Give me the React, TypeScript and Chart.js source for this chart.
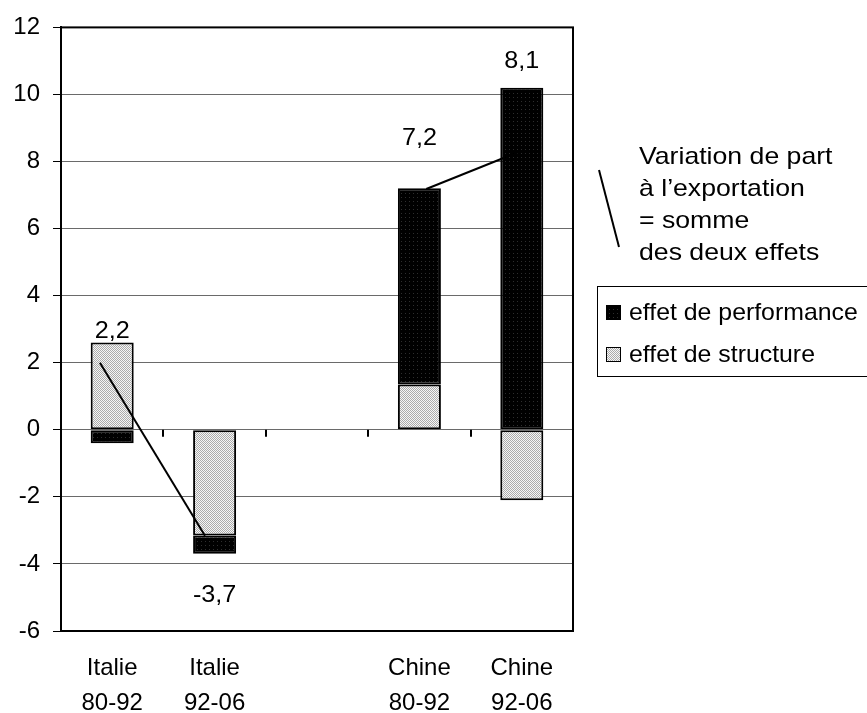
import React, { useEffect, useRef } from 'react';
import { Chart, registerables } from 'chart.js';

Chart.register(...registerables);

// ---- data ----
const categories: (string | string[])[] = [
  ['Italie', '80-92'],
  ['Italie', '92-06'],
  '',
  ['Chine', '80-92'],
  ['Chine', '92-06'],
];
const structureEffect = [2.6, -3.15, null, 1.35, -2.1];
const performanceEffect = [-0.4, -0.55, null, 5.85, 10.2];
// vertical placement (axis units) of the written totals
const totalLabelY = [2.95, -4.95, null, 8.7, 11.0];
const yMin = -6;
const yMax = 12;
const yStep = 2;
const seriesNames = ['effet de structure', 'effet de performance'];
const calloutLines = ['Variation de part', 'à l’exportation', '= somme', 'des deux effets'];
// connector lines between totals: [category index, axis value]
const italyConnector = [[-0.12, 2.0], [0.906, -3.16]];
const chinaConnector = [[3.067, 7.18], [3.98, 8.3]];

const FONT = '"Liberation Sans", Arial, sans-serif';

function makeStructurePattern(ctx: CanvasRenderingContext2D): CanvasPattern | string {
  const c = document.createElement('canvas');
  c.width = 2;
  c.height = 2;
  const p = c.getContext('2d');
  if (!p) return '#d0d0d0';
  p.fillStyle = '#f6f6f6';
  p.fillRect(0, 0, 2, 2);
  p.fillStyle = '#ababab';
  p.fillRect(0, 0, 1, 1);
  p.fillRect(1, 1, 1, 1);
  return ctx.createPattern(c, 'repeat') || '#d0d0d0';
}

function makePerformancePattern(ctx: CanvasRenderingContext2D): CanvasPattern | string {
  const c = document.createElement('canvas');
  c.width = 4;
  c.height = 4;
  const p = c.getContext('2d');
  if (!p) return '#000';
  p.fillStyle = '#000';
  p.fillRect(0, 0, 4, 4);
  p.fillStyle = '#2e2e2e';
  p.fillRect(1, 1, 1, 1);
  return ctx.createPattern(c, 'repeat') || '#000';
}

const fmt = (v: number) => v.toFixed(1).replace('.', ',');

// text drawn slightly widened, like the rest of the figure's lettering
function wideText(c: CanvasRenderingContext2D, text: string, x: number, y: number, sx: number) {
  c.save();
  c.translate(x, y);
  c.scale(sx, 1);
  c.fillText(text, 0, 0);
  c.restore();
}

export default function App() {
  const ref = useRef<HTMLCanvasElement | null>(null);

  useEffect(() => {
    const canvas = ref.current;
    if (!canvas) return;
    const ctx = canvas.getContext('2d');
    if (!ctx) return;

    const structFill = makeStructurePattern(ctx);
    const perfFill = makePerformancePattern(ctx);

    const overlay = {
      id: 'overlay',
      afterDatasetsDraw(chart: any) {
        const c: CanvasRenderingContext2D = chart.ctx;
        const { left, right, top, bottom } = chart.chartArea;
        const xs = chart.scales.x;
        const ys = chart.scales.y;
        const y0 = ys.getPixelForValue(0);

        c.save();
        // tick marks on the zero line, between categories
        c.strokeStyle = '#000';
        c.lineWidth = 2;
        for (let i = 1; i < categories.length; i++) {
          const x = Math.round((xs.getPixelForValue(i - 1) + xs.getPixelForValue(i)) / 2);
          c.beginPath();
          c.moveTo(x, y0);
          c.lineTo(x, y0 + 7);
          c.stroke();
        }

        // connectors
        c.lineWidth = 2;
        [italyConnector, chinaConnector].forEach((seg) => {
          c.beginPath();
          c.moveTo(xs.getPixelForValue(seg[0][0]), ys.getPixelForValue(seg[0][1]));
          c.lineTo(xs.getPixelForValue(seg[1][0]), ys.getPixelForValue(seg[1][1]));
          c.stroke();
        });

        // plot frame
        c.lineWidth = 2;
        c.strokeRect(left, top, right - left, bottom - top);

        // totals
        c.fillStyle = '#000';
        c.font = `24px ${FONT}`;
        c.textAlign = 'center';
        c.textBaseline = 'middle';
        categories.forEach((_, i) => {
          const s = structureEffect[i];
          const p = performanceEffect[i];
          const ly = totalLabelY[i];
          if (s === null || p === null || ly === null) return;
          wideText(c, fmt(s + p), xs.getPixelForValue(i), ys.getPixelForValue(ly), 1.05);
        });

        // callout text and its pointer line
        c.lineWidth = 2;
        c.beginPath();
        c.moveTo(right + 26, 170);
        c.lineTo(right + 46, 247);
        c.stroke();
        c.textAlign = 'left';
        c.textBaseline = 'alphabetic';
        calloutLines.forEach((t, i) => {
          wideText(c, t, right + 66, 164 + i * 32, 1.11);
        });

        // legend
        c.lineWidth = 1;
        c.strokeStyle = '#000';
        c.strokeRect(597.5, 286.5, 290, 90);
        const entries = [chart.data.datasets[1], chart.data.datasets[0]];
        entries.forEach((ds: any, i: number) => {
          const cy = 312 + i * 42;
          c.fillStyle = ds.backgroundColor;
          c.fillRect(606, cy - 7, 15, 15);
          c.strokeStyle = '#000';
          c.strokeRect(606.5, cy - 6.5, 14, 14);
          c.fillStyle = '#000';
          c.textBaseline = 'middle';
          wideText(c, ds.label, 629, cy + 1, 1.035);
        });
        c.restore();
      },
    };

    const chart = new Chart(canvas, {
      type: 'bar',
      data: {
        labels: categories,
        datasets: [
          {
            label: seriesNames[0],
            data: structureEffect,
            backgroundColor: structFill as any,
            borderColor: '#000',
            borderWidth: 2,
            borderSkipped: false,
          },
          {
            label: seriesNames[1],
            data: performanceEffect,
            backgroundColor: perfFill as any,
            borderColor: '#000',
            borderWidth: 2,
            borderSkipped: false,
          },
        ],
      },
      options: {
        animation: false,
        responsive: false,
        maintainAspectRatio: false,
        events: [],
        layout: { padding: { top: 27, right: 294, left: 0, bottom: 0 } },
        datasets: {
          bar: { barPercentage: 0.42, categoryPercentage: 1.0 },
        },
        plugins: {
          legend: { display: false },
          tooltip: { enabled: false },
          title: { display: false },
        },
        scales: {
          x: {
            stacked: true,
            offset: true,
            grid: { display: false, drawTicks: false },
            border: { display: false },
            ticks: {
              color: '#000',
              font: { family: FONT, size: 24, lineHeight: 1.45 },
              padding: 20,
              maxRotation: 0,
              autoSkip: false,
            },
            afterFit(scale: any) {
              scale.height = 82;
            },
          },
          y: {
            stacked: true,
            min: yMin,
            max: yMax,
            grid: { color: '#6a6a6a', lineWidth: 1, tickLength: 8, tickColor: '#000' },
            border: { display: true, color: '#000', width: 2 },
            ticks: {
              stepSize: yStep,
              color: '#000',
              font: { family: FONT, size: 24 },
              padding: 13,
            },
            afterFit(scale: any) {
              scale.width = 61;
            },
          },
        },
      },
      plugins: [overlay],
    });

    return () => chart.destroy();
  }, []);

  return (
    <div style={{ position: 'fixed', left: 0, top: 0, width: 867, height: 713, background: '#fff' }}>
      <canvas ref={ref} width={867} height={713} style={{ width: 867, height: 713, display: 'block' }} />
    </div>
  );
}
